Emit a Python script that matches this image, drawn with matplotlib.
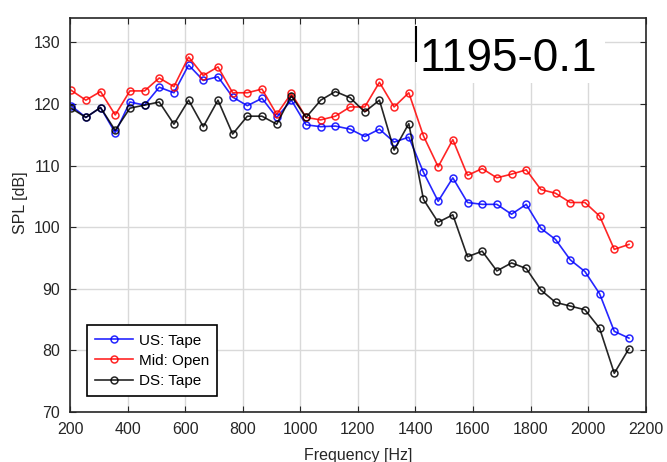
import matplotlib
matplotlib.use("Agg")
import matplotlib.pyplot as plt
from matplotlib.patches import Rectangle

# DATA
freq = [204, 255, 306, 357, 408, 459, 510, 561, 612, 663, 714, 765, 816,
        867, 918, 969, 1020, 1071, 1122, 1173, 1224, 1275, 1326, 1377, 1428,
        1479, 1530, 1581, 1632, 1683, 1734, 1785, 1836, 1887, 1938, 1989,
        2040, 2091, 2142]

us_tape = [119.7, 117.8, 119.4, 115.3, 120.3, 119.8, 122.7, 121.8, 126.3,
           123.8, 124.4, 121.1, 119.7, 120.9, 117.8, 120.6, 116.6, 116.3,
           116.4, 115.9, 114.7, 115.9, 113.8, 114.6, 108.9, 104.2, 108.0,
           104.0, 103.7, 103.7, 102.1, 103.7, 99.8, 98.0, 94.7, 92.8, 89.2,
           83.1, 82.0]

mid_open = [122.2, 120.6, 122.0, 118.2, 122.1, 122.1, 124.2, 122.8, 127.6,
            124.6, 126.0, 121.8, 121.8, 122.4, 118.3, 121.7, 117.8, 117.4,
            118.0, 119.5, 119.5, 123.5, 119.5, 121.8, 114.8, 109.8, 114.2,
            108.4, 109.5, 108.0, 108.6, 109.3, 106.1, 105.5, 104.0, 104.0,
            101.8, 96.4, 97.2]

ds_tape = [119.3, 117.8, 119.4, 115.7, 119.3, 119.8, 120.3, 116.7, 120.6,
           116.3, 120.6, 115.1, 118.0, 118.0, 116.7, 121.3, 117.8, 120.6,
           122.0, 121.0, 118.7, 120.6, 112.5, 116.8, 104.5, 100.8, 102.0,
           95.2, 96.1, 92.9, 94.2, 93.3, 89.8, 87.8, 87.2, 86.6, 83.6,
           76.3, 80.3]

series = [("US: Tape", us_tape, "#0000ff"),
          ("Mid: Open", mid_open, "#ff0000"),
          ("DS: Tape", ds_tape, "#000000")]

plt.rcParams['font.family'] = ['Liberation Sans', 'DejaVu Sans']

fig = plt.figure(figsize=(6.67, 4.62), dpi=100)
ax = fig.add_axes([0.105, 0.108, 0.863, 0.854])

for name, vals, col in series:
    ax.plot(freq, vals, color=col, lw=1.2, marker='o', ms=5,
            mfc='none', mec=col, mew=1.1, label=name, alpha=0.85)

ax.set_xlim(200, 2200)
ax.set_ylim(70, 134)
ax.set_xticks(range(200, 2201, 200))
ax.set_yticks(range(70, 131, 10))
ax.grid(True, color='#d9d9d9', lw=1.0)
ax.set_axisbelow(True)

ax.tick_params(direction='in', top=True, right=True, length=4,
               labelsize=11.5, colors='#262626', pad=7)
for sp in ax.spines.values():
    sp.set_color('#262626')
    sp.set_linewidth(1.2)

ax.set_xlabel("Frequency [Hz]", fontsize=11.5, color='#262626')
ax.xaxis.set_label_coords(0.5, -0.092)
ax.set_ylabel("SPL [dB]", fontsize=11.5, color='#262626', va='center')
ax.yaxis.set_label_coords(-0.086, 0.53)

# white box behind the label text
ax.add_patch(Rectangle((1401, 123.4), 657, 10.6, facecolor='white',
                       edgecolor='none', zorder=2))
ax.text(1415, 125.3, "1195-0.1", fontsize=33, va='baseline', ha='left',
        color='black', zorder=3)
ax.vlines(1401, 126.8, 132.6, color='black', lw=1.5, zorder=3)

leg = ax.legend(loc='lower left', bbox_to_anchor=(0.029, 0.04),
                fontsize=11, fancybox=False, edgecolor='black',
                framealpha=1, numpoints=1, handlelength=2.5,
                handletextpad=0.35, labelspacing=0.4, borderpad=0.55,
                borderaxespad=0)
leg.get_frame().set_linewidth(1.2)

fig.savefig("out.png", dpi=100)
